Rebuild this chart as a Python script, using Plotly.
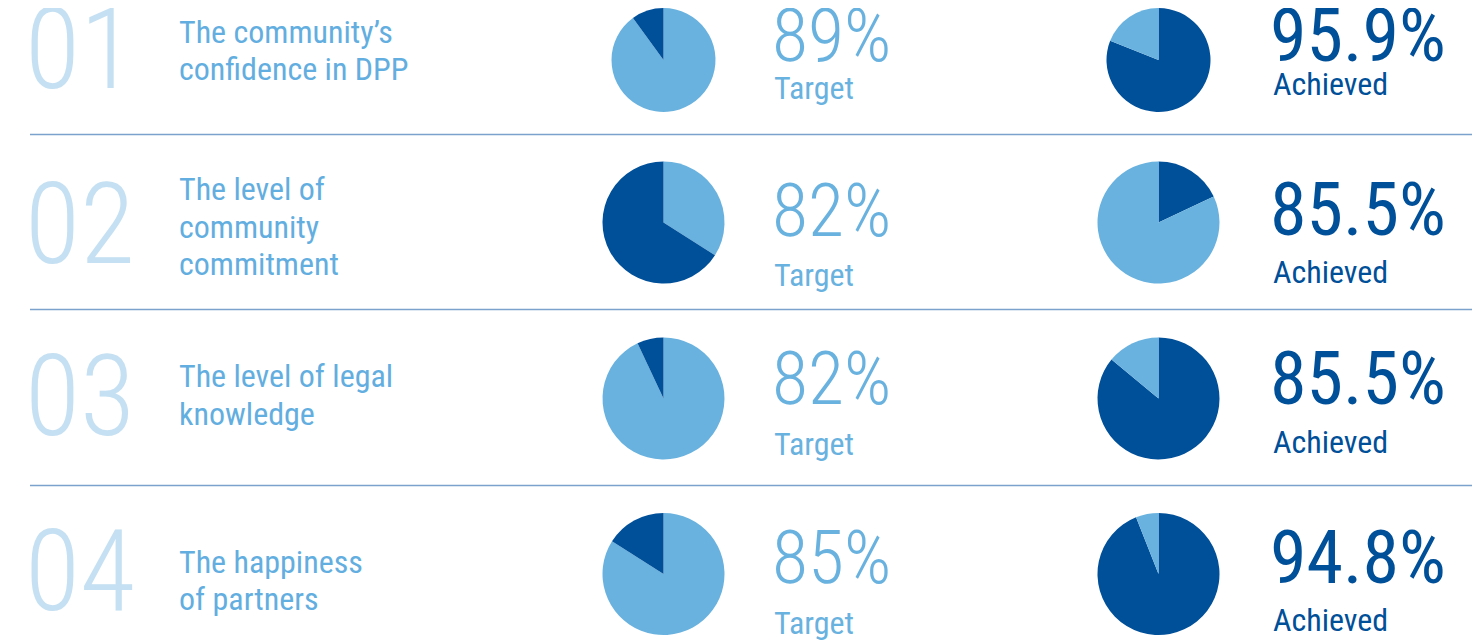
import plotly.graph_objects as go

# ---------------- data ----------------
row_numbers = ["01", "02", "03", "04"]
row_labels = [
    ["The community\u2019s", "confidence in DPP"],
    ["The level of", "community", "commitment"],
    ["The level of legal", "knowledge"],
    ["The happiness", "of partners"],
]
target_values = [89, 82, 82, 85]
achieved_values = [95.9, 85.5, 85.5, 94.8]
target_word = "Target"
achieved_word = "Achieved"

# pie slices as drawn (first slice clockwise from 12 o'clock, second closes the circle)
target_pie_light = [90, 34, 93, 84]
target_pie_dark = [10, 66, 7, 16]
achieved_pie_dark = [81, 18, 86, 94]
achieved_pie_light = [19, 82, 14, 6]

# ---------------- style / layout ----------------
W, H = 1480, 640
OFF = 8  # page offset of the figure
LIGHT = "#69b2df"
DARK = "#004f99"
NUM_COLOR = "#c5e0f2"
LABEL_COLOR = "#63aee0"
LINE_COLOR = "#7aa2cd"
FONT = "Roboto Condensed, Roboto, sans-serif"

NUM_SIZE = 113
LABEL_SIZE = 32
PCT_SIZE = 74
WORD_SIZE = 32

# layout positions (reference pixel coordinates)
num_mid = [49.5, 224.5, 396.5, 571]
label_baselines = [[43, 80], [200, 238, 275], [387, 425], [573, 610]]
pct_mid_t = [35.5, 210.5, 378.5, 557.5]
pct_mid_a = [35.5, 209, 378, 557]
word_base_t = [99, 286, 455, 634]
word_base_a = [95, 283, 453, 631]
pie_cy = [60, 222.5, 398.5, 574]
pie_r = [52, 61, 61, 61]
pie_cx_t, pie_cx_a = 663.5, 1158.5
sep_y = [134.5, 309.5, 485.5]


def dom(cx, cy, r):
    x0 = (cx - r - OFF) / W
    x1 = (cx + r - OFF) / W
    y1 = 1 - (cy - r - OFF) / H
    y0 = 1 - (cy + r - OFF) / H
    return dict(x=[max(0, x0), min(1, x1)], y=[max(0, y0), min(1, y1)])


fig = go.Figure()

for i in range(4):
    fig.add_trace(go.Pie(
        values=[target_pie_light[i], target_pie_dark[i]],
        marker=dict(colors=[LIGHT, DARK], line=dict(width=0)),
        sort=False, direction="clockwise", textinfo="none", hoverinfo="skip",
        showlegend=False, domain=dom(pie_cx_t, pie_cy[i], pie_r[i])))
    fig.add_trace(go.Pie(
        values=[achieved_pie_dark[i], achieved_pie_light[i]],
        marker=dict(colors=[DARK, LIGHT], line=dict(width=0)),
        sort=False, direction="clockwise", textinfo="none", hoverinfo="skip",
        showlegend=False, domain=dom(pie_cx_a, pie_cy[i], pie_r[i])))

annotations = []
for i in range(4):
    annotations.append(dict(x=23, y=num_mid[i], text=row_numbers[i], xanchor="left", yanchor="middle",
                            font=dict(family=FONT, size=NUM_SIZE, color=NUM_COLOR, weight=300)))
    for line, base in zip(row_labels[i], label_baselines[i]):
        annotations.append(dict(x=177, y=base - 0.355 * LABEL_SIZE, text=line, xanchor="left",
                                yanchor="middle", font=dict(family=FONT, size=LABEL_SIZE, color=LABEL_COLOR)))
    annotations.append(dict(x=770, y=pct_mid_t[i], text=f"{target_values[i]:g}%", xanchor="left",
                            yanchor="middle", font=dict(family=FONT, size=PCT_SIZE, color=LIGHT, weight=300)))
    annotations.append(dict(x=1268, y=pct_mid_a[i], text=f"{achieved_values[i]:.1f}%", xanchor="left",
                            yanchor="middle", font=dict(family=FONT, size=PCT_SIZE, color=DARK)))
    annotations.append(dict(x=772, y=word_base_t[i] - 0.355 * WORD_SIZE, text=target_word, xanchor="left",
                            yanchor="middle", font=dict(family=FONT, size=WORD_SIZE, color=LIGHT)))
    annotations.append(dict(x=1271, y=word_base_a[i] - 0.355 * WORD_SIZE, text=achieved_word, xanchor="left",
                            yanchor="middle", font=dict(family=FONT, size=WORD_SIZE, color=DARK)))

for a in annotations:
    a.update(xref="x", yref="y", showarrow=False)

shapes = [dict(type="line", xref="x", yref="y", x0=30, x1=1474, y0=y, y1=y,
               line=dict(color=LINE_COLOR, width=1.5)) for y in sep_y]

fig.update_xaxes(range=[OFF, W + OFF], visible=False, fixedrange=True)
fig.update_yaxes(range=[H + OFF, OFF], visible=False, fixedrange=True)
fig.update_layout(width=W, height=H, margin=dict(l=0, r=0, t=0, b=0),
                  plot_bgcolor="white", paper_bgcolor="white",
                  annotations=annotations, shapes=shapes)
fig.write_html("out.html")
